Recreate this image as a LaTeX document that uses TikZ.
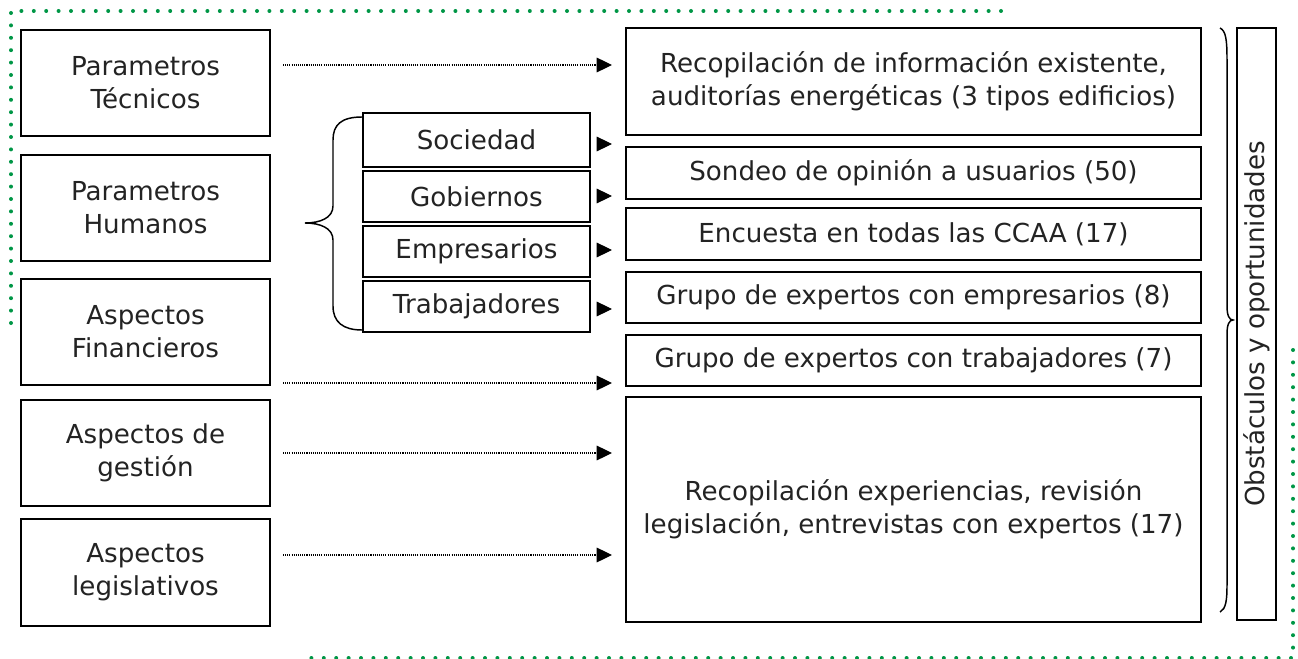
\documentclass[tikz,border=0pt]{standalone}
\usepackage{fontspec}
\setmainfont{DejaVu Sans}
\usetikzlibrary{arrows.meta}
\definecolor{dotgreen}{RGB}{0,150,70}
\definecolor{txt}{RGB}{35,35,35}
\begin{document}
\begin{tikzpicture}[x=0.75pt,y=-0.75pt,
  box/.style={draw=black, line width=1.5pt, inner sep=0pt, align=center, text=txt,
    font=\fontsize{19.6}{24.75}\selectfont},
  lbox/.style={box, minimum width=186.75pt, minimum height=79.5pt},
  mbox/.style={box, minimum width=170.25pt, minimum height=38.25pt},
  rbox/.style={box, minimum width=431.25pt},
  dotarrow/.style={line width=0.9pt, dash pattern=on 0.8pt off 0.8pt,
    -{Triangle[length=11.5pt,width=11pt]}, shorten <=9pt, shorten >=9.75pt},
  solidarrow/.style={line width=0.75pt,
    -{Triangle[length=11.5pt,width=11pt]}, shorten <=6pt, shorten >=9.75pt},
  bracestyle/.style={draw=black, line width=1.1pt},
  greendots/.style={draw=dotgreen, line width=3pt, line cap=round,
    dash pattern=on 0pt off 9.3pt}
]
\useasboundingbox (0,0) rectangle (1298,659);

% green dotted frame pieces
\draw[greendots] (11,323) -- (11,11) -- (1005,11);
\draw[greendots] (1293,350) -- (1293,658) -- (300,658);

% left column
\node[lbox] (p1) at (145.5,83) {Parametros\\Técnicos};
\node[lbox] (p2) at (145.5,208) {Parametros\\Humanos};
\node[lbox] (p3) at (145.5,332) {Aspectos\\Financieros};
\node[lbox] (p4) at (145.5,453) {Aspectos de\\gestión};
\node[lbox, minimum height=80.25pt] (p5) at (145.5,572.5) {Aspectos\\legislativos};

% middle column
\node[mbox, minimum height=40.5pt] (soc) at (476.5,140) {Sociedad};
\node[mbox] (gob) at (476.5,196.5) {Gobiernos};
\node[mbox] (emp) at (476.5,251.5) {Empresarios};
\node[mbox] (tra) at (476.5,306.5) {Trabajadores};

% right column
\node[rbox, minimum height=80.25pt] (r1) at (913.5,81.5) {Recopilación de información existente,\\auditorías energéticas (3 tipos edificios)};
\node[rbox, minimum height=39pt] (r2) at (913.5,173) {Sondeo de opinión a usuarios (50)};
\node[rbox, minimum height=39pt] (r3) at (913.5,234) {Encuesta en todas las CCAA (17)};
\node[rbox, minimum height=38.25pt] (r4) at (913.5,297.5) {Grupo de expertos con empresarios (8)};
\node[rbox, minimum height=38.25pt] (r5) at (913.5,360.5) {Grupo de expertos con trabajadores (7)};
\node[rbox, minimum height=168.75pt] (r6) at (913.5,509.5) {Recopilación experiencias, revisión\\legislación, entrevistas con expertos (17)};

% vertical box
\node[box, rotate=90, minimum width=444pt, minimum height=29.25pt] (vb) at (1256.5,324) {Obstáculos y oportunidades};

% left brace
\draw[bracestyle] (362,117) .. controls (341,117) and (333,125) .. (333,140) -- (333,206)
  .. controls (333,218) and (320,223) .. (305,223)
  .. controls (320,223) and (333,228) .. (333,240) -- (333,306)
  .. controls (333,322) and (343,330) .. (362,330);

% right brace
\draw[bracestyle] (1220,28) .. controls (1226,31) and (1227,40) .. (1227,60) -- (1227,306)
  .. controls (1227,315) and (1229,320) .. (1233,320)
  .. controls (1229,320) and (1227,325) .. (1227,334) -- (1227,585)
  .. controls (1227,600) and (1226,609) .. (1220,612);

% dotted arrows
\draw[dotarrow] (p1.east |- 0,65) -- (r1.west |- 0,65);
\draw[dotarrow] (p3.east |- 0,383) -- (r5.west |- 0,383);
\draw[dotarrow] (p4.east |- 0,453) -- (r6.west |- 0,453);
\draw[dotarrow] (p5.east |- 0,555) -- (r6.west |- 0,555);

% solid small arrows
\draw[solidarrow] (soc.east |- 0,144) -- (r2.west |- 0,144);
\draw[solidarrow] (gob.east |- 0,196) -- (r2.west |- 0,196);
\draw[solidarrow] (emp.east |- 0,250) -- (r3.west |- 0,250);
\draw[solidarrow] (tra.east |- 0,309) -- (r4.west |- 0,309);
\end{tikzpicture}
\end{document}
